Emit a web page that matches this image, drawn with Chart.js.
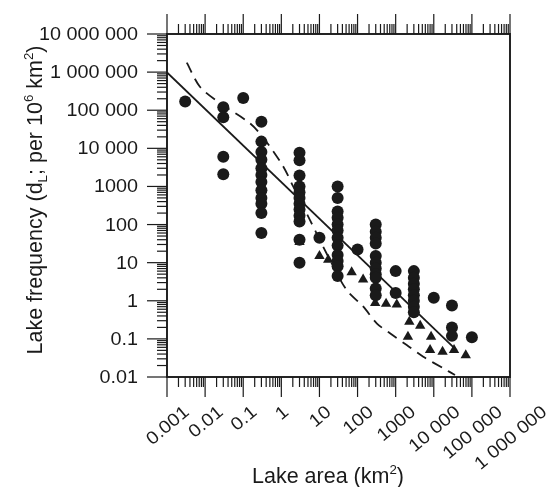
<!DOCTYPE html>
<html>
<head>
<meta charset="utf-8">
<script src="https://cdn.jsdelivr.net/npm/chart.js@4.4.1/dist/chart.umd.min.js"></script>
<style>
  html, body { margin: 0; padding: 0; background: #fff; }
  canvas { display: block; }
</style>
</head>
<body>
<canvas id="chart" width="546" height="487"></canvas>
<script>
// Axis decades and their labels
const xTicks = [0.001, 0.01, 0.1, 1, 10, 100, 1000, 10000, 100000, 1000000]
const xTickLabels = ['0.001', '0.01', '0.1', '1', '10', '100', '1000', '10 000', '100 000', '1 000 000']
const yTicks = [0.01, 0.1, 1, 10, 100, 1000, 10000, 100000, 1000000, 10000000]
const yTickLabels = ['0.01', '0.1', '1', '10', '100', '1000', '10 000', '100 000', '1 000 000', '10 000 000']

// Lake inventories (circles): [area km2, frequency per 10^6 km2]
const circles = [
  [0.003, 170000],
  [0.03, 120000], [0.03, 65000], [0.03, 6000], [0.03, 2100],
  [0.1, 210000],
  [0.3, 50000], [0.3, 15000], [0.3, 8000], [0.3, 5000], [0.3, 3000], [0.3, 2000],
  [0.3, 1300], [0.3, 800], [0.3, 500], [0.3, 350], [0.3, 200], [0.3, 60],
  [3, 7700], [3, 4900], [3, 1950], [3, 1000], [3, 700], [3, 500], [3, 350],
  [3, 250], [3, 170], [3, 120], [3, 40], [3, 10],
  [10, 45],
  [30, 1000], [30, 500], [30, 220], [30, 150], [30, 100], [30, 70], [30, 45],
  [30, 28], [30, 16], [30, 11], [30, 8], [30, 4.5],
  [100, 22],
  [300, 100], [300, 65], [300, 45], [300, 32], [300, 15], [300, 10], [300, 7],
  [300, 5], [300, 4], [300, 2.1], [300, 1.4],
  [1000, 6], [1000, 1.6],
  [3000, 6], [3000, 4], [3000, 2.8], [3000, 2], [3000, 1.4], [3000, 1], [3000, 0.7], [3000, 0.5],
  [10000, 1.2],
  [30000, 0.75], [30000, 0.2], [30000, 0.12],
  [100000, 0.11],
]

// Triangles
const triangles = [
  [3, 35], [10, 15], [17, 12], [70, 5.6], [140, 3.6],
  [290, 0.87], [560, 0.83], [1070, 0.8],
  [2280, 0.28], [4400, 0.22], [2100, 0.114], [8500, 0.114],
  [8000, 0.051], [17000, 0.046], [34000, 0.051], [69000, 0.037],
]

// Fitted power law (solid) and model curve (dashed)
const solidLine = [[0.001, 980000], [40000, 0.05]]
const dashedLine = [
  [0.0033, 1770000], [0.0073, 414000], [0.0246, 152000], [0.15, 45400], [0.373, 16600],
  [1.13, 3300], [2.06, 985], [5.65, 131], [18.9, 11.7], [52, 1.9], [142, 0.7],
  [318, 0.256], [710, 0.14], [1950, 0.069], [5300, 0.034], [17800, 0.0169], [36000, 0.0113],
]

const INK = '#1a1a1a'
const FONT = '"Liberation Sans", Arial, Helvetica, sans-serif'
const TICK_SIZE = 18
const TICK_STRETCH = 1.1
const TITLE_SIZE = 21.5

const toXY = (pairs) => pairs.map(([x, y]) => ({ x, y }))

function minorValues(decades) {
  const out = []
  for (let i = 0; i < decades.length - 1; i++) {
    for (let m = 2; m <= 9; m++) out.push(decades[i] * m)
  }
  return out
}

function drawRich(ctx, parts, size) {
  // parts: [text, 'sup' | 'sub' | undefined], drawn centred on 0
  const fontFor = (k) => (k ? size * 0.62 : size) + 'px ' + FONT
  let w = 0
  parts.forEach(([t, k]) => {
    ctx.font = fontFor(k)
    w += ctx.measureText(t).width
  })
  let x = -w / 2
  ctx.textAlign = 'left'
  ctx.textBaseline = 'alphabetic'
  parts.forEach(([t, k]) => {
    ctx.font = fontFor(k)
    const dy = k === 'sup' ? -size * 0.4 : k === 'sub' ? size * 0.22 : 0
    ctx.fillText(t, x, dy)
    x += ctx.measureText(t).width
  })
}

const logAxes = {
  id: 'logAxes',
  afterDraw(chart) {
    const { ctx, chartArea: a, scales } = chart
    const sx = scales.x
    const sy = scales.y
    ctx.save()
    ctx.strokeStyle = INK
    ctx.fillStyle = INK

    // frame
    ctx.lineWidth = 1.9
    ctx.strokeRect(a.left, a.top, a.right - a.left, a.bottom - a.top)

    // tick marks: left, bottom and top, all pointing outward
    ctx.lineWidth = 1.2
    const tick = (x1, y1, x2, y2) => {
      ctx.beginPath()
      ctx.moveTo(x1, y1)
      ctx.lineTo(x2, y2)
      ctx.stroke()
    }
    yTicks.forEach((v) => {
      const py = sy.getPixelForValue(v)
      tick(a.left - 20, py, a.left, py)
    })
    minorValues(yTicks).forEach((v) => {
      const py = sy.getPixelForValue(v)
      tick(a.left - 10, py, a.left, py)
    })
    xTicks.forEach((v) => {
      const px = sx.getPixelForValue(v)
      tick(px, a.bottom, px, a.bottom + 20)
      tick(px, a.top, px, a.top - 20)
    })
    minorValues(xTicks).forEach((v) => {
      const px = sx.getPixelForValue(v)
      tick(px, a.bottom, px, a.bottom + 10)
      tick(px, a.top, px, a.top - 10)
    })

    // y tick labels
    ctx.font = TICK_SIZE + 'px ' + FONT
    ctx.textAlign = 'right'
    ctx.textBaseline = 'middle'
    yTicks.forEach((v, i) => {
      ctx.save()
      ctx.translate(a.left - 29, sy.getPixelForValue(v) + 1)
      ctx.scale(TICK_STRETCH, 1)
      ctx.fillText(yTickLabels[i], 0, 0)
      ctx.restore()
    })

    // x tick labels, rotated about their centre
    const ang = (40 * Math.PI) / 180
    ctx.textAlign = 'center'
    xTicks.forEach((v, i) => {
      const L = ctx.measureText(xTickLabels[i]).width * TICK_STRETCH
      const h = 13
      const bboxH = L * Math.sin(ang) + h * Math.cos(ang)
      ctx.save()
      ctx.translate(sx.getPixelForValue(v) + 1, a.bottom + 28 + bboxH / 2)
      ctx.rotate(-ang)
      ctx.scale(TICK_STRETCH, 1)
      ctx.fillText(xTickLabels[i], 0, 0)
      ctx.restore()
    })

    // axis titles
    ctx.save()
    ctx.translate(328, 483)
    drawRich(ctx, [['Lake area (km'], ['2', 'sup'], [')']], TITLE_SIZE)
    ctx.restore()

    ctx.save()
    ctx.translate(42, 200)
    ctx.rotate(-Math.PI / 2)
    drawRich(ctx, [
      ['Lake frequency (d'], ['L', 'sub'], ['; per 10'], ['6', 'sup'],
      [' km'], ['2', 'sup'], [')'],
    ], TITLE_SIZE)
    ctx.restore()

    ctx.restore()
  },
}

new Chart(document.getElementById('chart'), {
  type: 'scatter',
  data: {
    datasets: [
      {
        label: 'circles',
        data: toXY(circles),
        pointStyle: 'circle',
        pointRadius: 6,
        backgroundColor: INK,
        borderColor: INK,
        borderWidth: 0,
      },
      {
        label: 'triangles',
        data: toXY(triangles),
        pointStyle: 'triangle',
        pointRadius: 6,
        backgroundColor: INK,
        borderColor: INK,
        borderWidth: 0,
      },
      {
        label: 'power law',
        data: toXY(solidLine),
        showLine: true,
        pointRadius: 0,
        borderColor: INK,
        borderWidth: 1.8,
        fill: false,
      },
      {
        label: 'model',
        data: toXY(dashedLine),
        showLine: true,
        pointRadius: 0,
        borderColor: INK,
        borderWidth: 1.8,
        borderDash: [11, 7],
        tension: 0.3,
        fill: false,
      },
    ],
  },
  options: {
    responsive: false,
    animation: false,
    layout: { padding: { left: 167, top: 34, right: 36, bottom: 110 } },
    plugins: {
      legend: { display: false },
      tooltip: { enabled: false },
    },
    scales: {
      x: { type: 'logarithmic', min: 0.001, max: 1000000, display: false },
      y: { type: 'logarithmic', min: 0.01, max: 10000000, display: false },
    },
  },
  plugins: [logAxes],
})
</script>
</body>
</html>
